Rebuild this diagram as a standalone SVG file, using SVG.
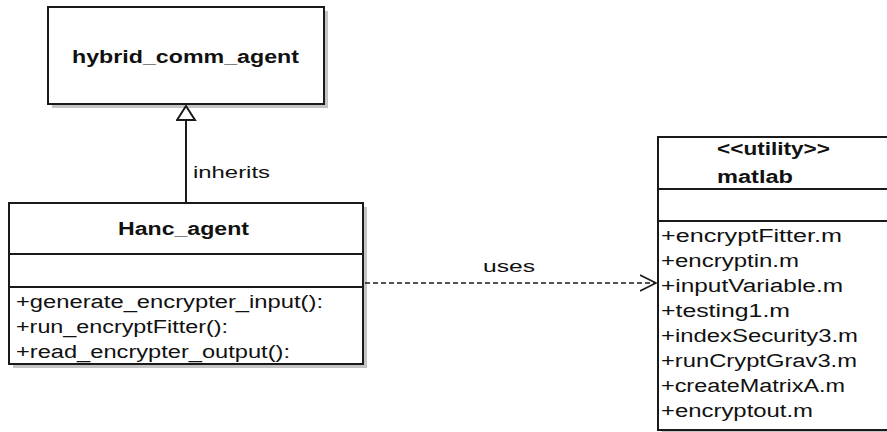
<svg xmlns="http://www.w3.org/2000/svg" width="887" height="432" viewBox="0 0 887 432">
  <style>
    .box { fill: #ffffff; stroke: #1a1a1a; stroke-width: 2; }
    .shadow { fill: #c4c4c4; }
    .div { stroke: #1a1a1a; stroke-width: 2; fill: none; }
    .title { font-family: "Liberation Sans", Arial, sans-serif; font-size: 18px; font-weight: bold; fill: #111; }
    .member { font-family: "Liberation Sans", Arial, sans-serif; font-size: 18px; fill: #111; }
    .label { font-family: "Liberation Sans", Arial, sans-serif; font-size: 17px; fill: #111; }
    .line { stroke: #1a1a1a; stroke-width: 2; fill: none; }
    .dash { stroke: #1a1a1a; stroke-width: 1.5; fill: none; stroke-dasharray: 5 3; }
  </style>
  <defs>
    <!-- hollow generalization triangle, tip at the end of the path -->
    <marker id="inherit" markerWidth="20" markerHeight="22" refX="15" refY="10" orient="auto" markerUnits="userSpaceOnUse" viewBox="0 0 20 22">
      <path d="M15,10 L1,1 L1,19 Z" fill="#fff" stroke="#1a1a1a" stroke-width="2" stroke-linejoin="miter"/>
    </marker>
    <!-- open dependency arrow -->
    <marker id="open" markerWidth="20" markerHeight="20" refX="16" refY="9" orient="auto" markerUnits="userSpaceOnUse" viewBox="0 0 20 20">
      <path d="M0,1 L16,9 L0,17" fill="none" stroke="#1a1a1a" stroke-width="1.6"/>
    </marker>
  </defs>

  <rect width="887" height="432" fill="#ffffff"/>

  <g id="hybrid_comm_agent">
    <rect class="shadow" x="52" y="11" width="276" height="97"/>
    <rect class="box" x="48" y="7" width="276" height="97"/>
    <text class="title" x="72" y="63" textLength="227" lengthAdjust="spacingAndGlyphs">hybrid_comm_agent</text>
  </g>

  <g id="Hanc_agent">
    <rect class="shadow" x="13" y="207" width="354" height="161"/>
    <rect class="box" x="9" y="203" width="354" height="161"/>
    <line class="div" x1="9" y1="254" x2="363" y2="254"/>
    <line class="div" x1="9" y1="287" x2="363" y2="287"/>
    <text class="title" x="118" y="235" textLength="131" lengthAdjust="spacingAndGlyphs">Hanc_agent</text>
    <text class="member" x="16" y="308" textLength="307" lengthAdjust="spacingAndGlyphs">+generate_encrypter_input():</text>
    <text class="member" x="16" y="333" textLength="212" lengthAdjust="spacingAndGlyphs">+run_encryptFitter():</text>
    <text class="member" x="16" y="358" textLength="274" lengthAdjust="spacingAndGlyphs">+read_encrypter_output():</text>
  </g>

  <g id="matlab">
    <rect class="shadow" x="662" y="141" width="240" height="300"/>
    <rect class="box" x="658" y="137" width="240" height="293"/>
    <line class="div" x1="658" y1="189" x2="898" y2="189"/>
    <line class="div" x1="658" y1="221" x2="898" y2="221"/>
    <text class="title" x="717" y="155" textLength="113" lengthAdjust="spacingAndGlyphs">&lt;&lt;utility&gt;&gt;</text>
    <text class="title" x="717" y="183" textLength="76" lengthAdjust="spacingAndGlyphs">matlab</text>
    <text class="member" x="661" y="242" textLength="181" lengthAdjust="spacingAndGlyphs">+encryptFitter.m</text>
    <text class="member" x="661" y="267" textLength="138" lengthAdjust="spacingAndGlyphs">+encryptin.m</text>
    <text class="member" x="661" y="292" textLength="182" lengthAdjust="spacingAndGlyphs">+inputVariable.m</text>
    <text class="member" x="661" y="317" textLength="129" lengthAdjust="spacingAndGlyphs">+testing1.m</text>
    <text class="member" x="661" y="342" textLength="197" lengthAdjust="spacingAndGlyphs">+indexSecurity3.m</text>
    <text class="member" x="661" y="367" textLength="196" lengthAdjust="spacingAndGlyphs">+runCryptGrav3.m</text>
    <text class="member" x="661" y="392" textLength="184" lengthAdjust="spacingAndGlyphs">+createMatrixA.m</text>
    <text class="member" x="661" y="417" textLength="152" lengthAdjust="spacingAndGlyphs">+encryptout.m</text>
  </g>

  <g id="connectors">
    <line class="line" x1="186" y1="203" x2="186" y2="106" marker-end="url(#inherit)"/>
    <text class="label" x="193" y="178" textLength="77" lengthAdjust="spacingAndGlyphs">inherits</text>
    <line class="dash" x1="365" y1="283" x2="656" y2="283" marker-end="url(#open)"/>
    <text class="label" x="483" y="272" textLength="52" lengthAdjust="spacingAndGlyphs">uses</text>
  </g>
</svg>
